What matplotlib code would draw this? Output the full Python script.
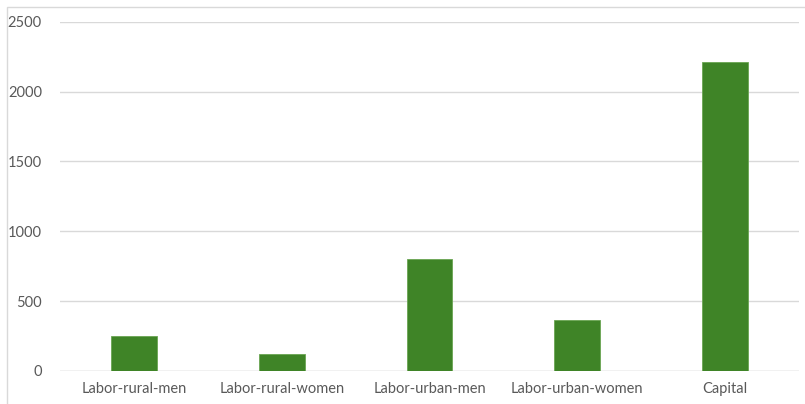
import matplotlib
matplotlib.use("Agg")
import matplotlib.pyplot as plt
from matplotlib.patches import Rectangle

categories = ["Labor-rural-men", "Labor-rural-women", "Labor-urban-men", "Labor-urban-women", "Capital"]
values = [250, 125, 800, 365, 2215]
yticks = [0, 500, 1000, 1500, 2000, 2500]

plt.rcParams['font.family'] = ['Lato', 'DejaVu Sans']

W, H = 805, 404
fig = plt.figure(figsize=(W/100, H/100), dpi=100)
fig.patch.set_facecolor('white')
fig.patches.append(Rectangle((7/W, -0.01), 1.0, (H-6.5)/H + 0.01, transform=fig.transFigure,
                             fill=False, edgecolor='#d9d9d9', linewidth=1))

ax = fig.add_axes([60/W, (H-371)/H, (799-60)/W, (371-21.7)/H])
x = range(len(categories))
ax.bar(x, values, width=0.31, color='#3f8427', edgecolor='#6aa552', linewidth=0.6, zorder=3)
ax.set_xlim(-0.5, len(categories)-0.5)
ax.set_ylim(0, 2500)
ax.set_yticks(yticks)
ax.set_yticklabels([str(t) for t in yticks])
ax.set_xticks(list(x))
ax.set_xticklabels(categories)
ax.grid(axis='y', color='#d9d9d9', linewidth=1, zorder=0)
for s in ax.spines.values():
    s.set_visible(False)
ax.tick_params(axis='both', length=0, labelsize=10.5, labelcolor='#595959')
ax.tick_params(axis='y', pad=13)
ax.tick_params(axis='x', pad=8)
ax.axhline(0, color='#d9d9d9', linewidth=1, zorder=1)

fig.savefig("out.png", dpi=100)
